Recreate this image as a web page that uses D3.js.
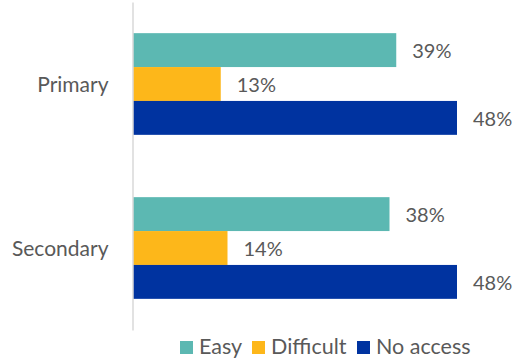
<!DOCTYPE html>
<html>
<head>
<meta charset="utf-8">
<script src="https://cdn.jsdelivr.net/npm/d3@7"></script>
<style>
  html, body { margin: 0; padding: 0; background: #fff; }
  svg { display: block; }
  text { font-family: Lato, "Open Sans", sans-serif; fill: #595959; }
</style>
</head>
<body>
<svg id="chart" width="516" height="358"></svg>
<script>
// Access to schooling, share of respondents
const categories = ["Primary", "Secondary"];
const seriesNames = ["Easy", "Difficult", "No access"];
const easy = [39, 38];
const difficult = [13, 14];
const noAccess = [48, 48];
const colors = ["#5cb8b2", "#fdb71a", "#0033a0"];

const values = [easy, difficult, noAccess];

const svg = d3.select("#chart");
const margin = { top: 2, plotBottom: 330 };

const x = d3.scaleLinear().domain([0, 48]).range([133, 457]);

const y0 = d3.scaleBand()
  .domain(categories)
  .range([margin.top, margin.plotBottom])
  .paddingInner(0.38)
  .paddingOuter(0.19);

const y1 = d3.scaleBand()
  .domain(seriesNames)
  .range([0, y0.bandwidth()]);

// bars with value labels
const groups = svg.selectAll("g.cat")
  .data(categories)
  .join("g")
  .attr("class", "cat")
  .attr("transform", d => `translate(0,${y0(d)})`);

groups.each(function(cat, ci) {
  const g = d3.select(this);
  seriesNames.forEach((s, si) => {
    const v = values[si][ci];
    g.append("rect")
      .attr("x", x(0))
      .attr("y", y1(s))
      .attr("width", x(v) - x(0))
      .attr("height", y1.bandwidth())
      .attr("fill", colors[si]);
    g.append("text")
      .attr("x", x(v) + 16)
      .attr("y", y1(s) + y1.bandwidth() / 2)
      .attr("dy", "0.4em")
      .attr("font-size", 20)
      .text(v + "%");
  });
});

// category axis
const axis = d3.axisLeft(y0).tickSize(0).tickPadding(24);
const ag = svg.append("g")
  .attr("transform", `translate(${x(0) - 0.5},0)`)
  .call(axis);
ag.select(".domain").attr("stroke", "#d9d9d9").attr("stroke-width", 1.5);
ag.selectAll(".tick text")
  .attr("font-size", 21)
  .attr("dy", "0.36em")
  .attr("fill", "#595959")
  .style("font-family", "Lato, 'Open Sans', sans-serif");

// legend
const legendItems = [
  { name: "Easy", x: 180 },
  { name: "Difficult", x: 252 },
  { name: "No access", x: 357 }
];
const lg = svg.append("g");
legendItems.forEach((it, i) => {
  lg.append("rect")
    .attr("x", it.x)
    .attr("y", 341)
    .attr("width", 13)
    .attr("height", 13)
    .attr("fill", colors[i]);
  lg.append("text")
    .attr("x", it.x + 19)
    .attr("y", 354)
    .attr("font-size", 21.5)
    .text(seriesNames[i]);
});
</script>
</body>
</html>
